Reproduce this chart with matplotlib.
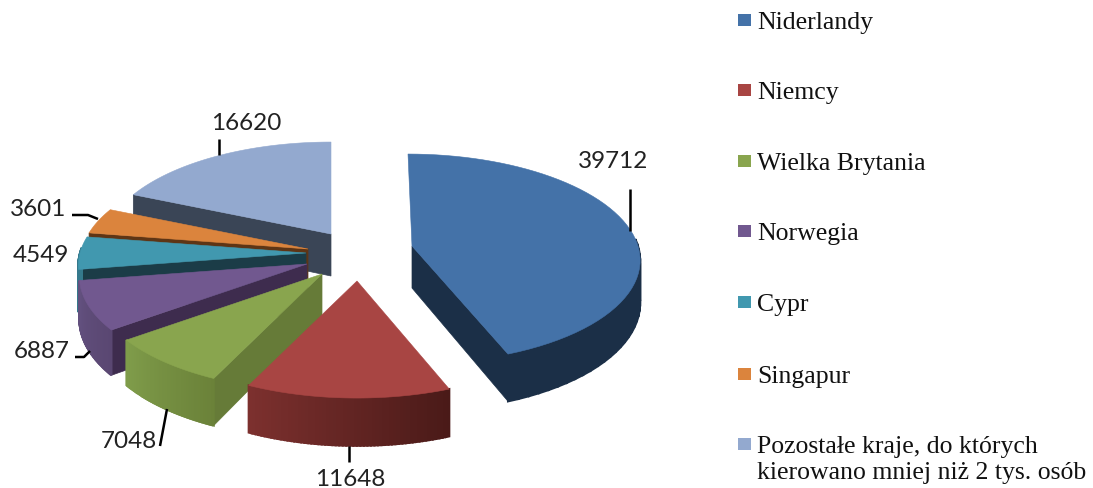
import numpy as np
import matplotlib
matplotlib.use("Agg")
import matplotlib.pyplot as plt
from matplotlib.colors import to_rgb
from matplotlib.patches import Polygon, Rectangle

countries = ["Niderlandy", "Niemcy", "Wielka Brytania", "Norwegia", "Cypr", "Singapur",
             "Pozostałe kraje, do których\nkierowano mniej niż 2 tys. osób"]
values = [39712, 11648, 7048, 6887, 4549, 3601, 16620]

# styles
top_colors = ["#4472a8", "#a84543", "#89a54e", "#71588f", "#4198af", "#db843d", "#93a9cf"]
face_colors = ["#1b2f47", "#5a2422", "#667b38", "#3e2c4e", "#1b3c47", "#5e3515", "#3a4556"]
arc_left = ["#1b2f47", "#7c302e", "#7f9c4a", "#62507e", "#35798c", "#a8602a", "#3a4556"]
arc_right = ["#1b2f47", "#4a1a18", "#6b8239", "#5a4772", "#35798c", "#a8602a", "#3a4556"]

# layout, in pixels: where each exploded slice has its tip
tip_x = [412, 357, 322, 307, 306, 308, 331]
tip_y = [247, 282, 275, 265, 254, 250, 235]
lean = [-4, 0, 0, 0, 0, 0, 0]
rx = 226
ry = 103
persp = 0.12
depth = 42

# label position, leader line
label_x = [613, 350, 129, 42, 41, 38, 246]
label_y = [161, 480, 441, 352, 256, 209, 123]
leader_x = [[630, 630], [349, 349], [167, 160], [75, 84, 90], [], [72, 88, 98], [219, 219]]
leader_y = [[232, 190], [447, 463], [410, 447], [358, 358, 352], [], [216, 216, 220], [156, 140]]

legend_y = [21, 91, 162, 232, 303, 375, 445]


def project(i, ang, drop=0.0):
    # ang in degrees clockwise from the top of the pie
    ang = np.radians(ang)
    X = np.sin(ang)
    Y = np.cos(ang)
    s = 1 / (1 + persp * Y)
    return (tip_x[i] + rx * X * s + lean[i] * Y,
            tip_y[i] - ry * Y * s + drop * s)


fig = plt.figure(figsize=(10.93, 4.89), dpi=100)
ax = fig.add_axes([0, 0, 1, 1])
ax.set_xlim(0, 1093)
ax.set_ylim(489, 0)
ax.axis("off")

ends = np.cumsum(values) / sum(values) * 360
starts = np.concatenate([[0], ends[:-1]])

# back slices first, the front ones cover them
for i in [6, 5, 4, 3, 2, 1, 0]:
    a0, a1 = starts[i], ends[i]
    tip = (tip_x[i], tip_y[i])
    tip_low = (tip_x[i], tip_y[i] + depth)

    for a, normal in [(a0, a0 - 90), (a1, a1 + 90)]:
        if np.cos(np.radians(normal)) < -0.01:
            ax.add_patch(Polygon([tip, project(i, a), project(i, a, depth), tip_low],
                                 closed=True, fc=face_colors[i], ec=face_colors[i], lw=0.5))

    angs = np.linspace(a0, a1, 60)
    c0 = np.array(to_rgb(arc_left[i]))
    c1 = np.array(to_rgb(arc_right[i]))
    for k in range(len(angs) - 1):
        p, q = angs[k], angs[k + 1]
        if np.cos(np.radians((p + q) / 2)) > 0.05:
            continue
        # angle runs clockwise, so on the front it goes right to left
        t = 1 - k / (len(angs) - 2)
        col = c0 + (c1 - c0) * t
        ax.add_patch(Polygon([project(i, p), project(i, q), project(i, q, depth), project(i, p, depth)],
                             closed=True, fc=col, ec=col, lw=1.5))

    pts = [tip] + [project(i, a) for a in angs]
    ax.add_patch(Polygon(pts, closed=True, fc=top_colors[i], ec=top_colors[i], lw=0.4))

for i in range(len(values)):
    if leader_x[i]:
        ax.plot(leader_x[i], leader_y[i], color="black", lw=1.8, solid_capstyle="butt")
    ax.text(label_x[i], label_y[i], str(values[i]), family="Lato", fontsize=17.5,
            color="#222222", ha="center", va="center")

for i in range(len(countries)):
    ax.add_patch(Rectangle((738, legend_y[i] - 6), 13, 12, fc=top_colors[i], ec="none"))
    ax.text(757, legend_y[i] - 9, countries[i], family="Liberation Serif", fontsize=18.5,
            color="#111111", ha="left", va="top", linespacing=1.25)

fig.savefig("out.png", dpi=100)
